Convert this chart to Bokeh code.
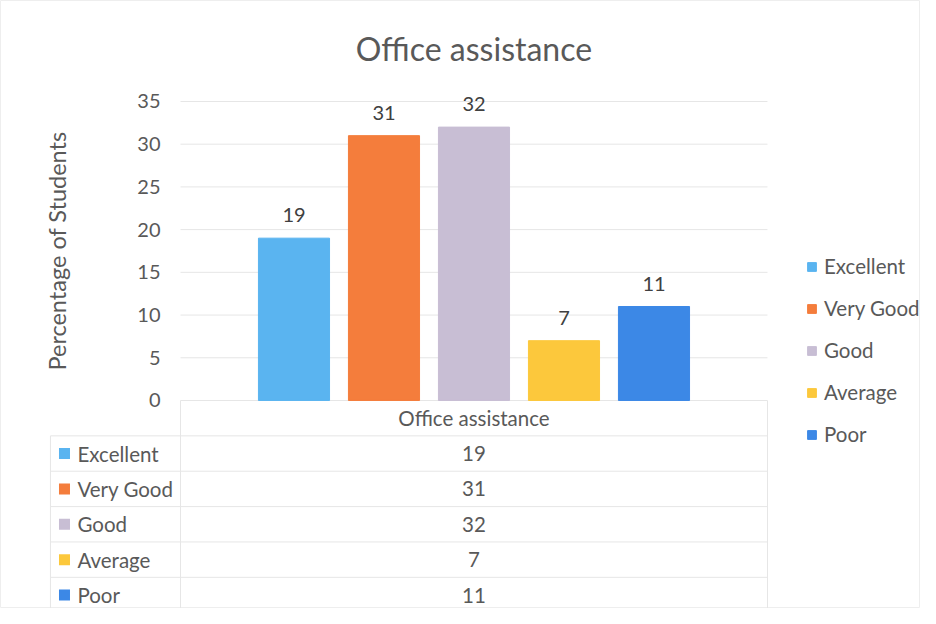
from bokeh.plotting import figure
from bokeh.models import Range1d, ColumnDataSource, Legend, LegendItem
from bokeh.core.properties import value
from bokeh.embed import file_html
from bokeh.resources import INLINE

# ---- data ----
categories = ["Excellent", "Very Good", "Good", "Average", "Poor"]
values = [19, 31, 32, 7, 11]
colors = ["#5AB4F0", "#F47D3C", "#C8BED4", "#FCC83C", "#3C88E6"]
y_ticks = [0, 5, 10, 15, 20, 25, 30, 35]
title_text = "Office assistance"
y_label = "Percentage of Students"
group_label = "Office assistance"

FONT = "Lato"
TXT = "#595959"
GRID = "#E6E6E6"

W, H = 920, 608
PX_X = 90.0      # pixels per bar slot
PX_Y = 8.543     # pixels per percentage point
x0 = -2.261
y1 = 46.82
p = figure(width=W, height=H,
           x_range=Range1d(x0, x0 + W / PX_X),
           y_range=Range1d(y1 - H / PX_Y, y1),
           output_backend="svg", toolbar_location=None,
           x_axis_location=None, y_axis_location=None, min_border=0)
p.grid.visible = False
p.outline_line_color = "#EEEEEE"
p.background_fill_color = "white"

xs = [i + 1 for i in range(len(categories))]
area_l, area_r = 0.5 - 0.761, len(categories) + 0.5 + 0.761
table_l = area_l - 1.445

# gridlines
p.segment(x0=[area_l] * len(y_ticks), y0=y_ticks, x1=[area_r] * len(y_ticks), y1=y_ticks,
          line_color=GRID, line_width=1)

src = ColumnDataSource(dict(x=xs, top=values, color=colors, cat=categories,
                            lbl=[str(v) for v in values]))
bars = p.vbar(x="x", top="top", width=0.79, color="color", source=src)
p.text(x="x", y="top", text="lbl", source=src, text_align="center",
       text_baseline="middle", y_offset=-23, text_font=value(FONT),
       text_font_size="20px", text_color="#404040")

# y tick labels and axis label
p.text(x=[area_l - 0.222] * len(y_ticks), y=y_ticks, text=[str(t) for t in y_ticks],
       text_align="right", text_baseline="middle", text_font=value(FONT),
       text_font_size="20px", text_color=TXT)
p.text(x=[table_l + 0.078], y=[y_ticks[-1] / 2], text=[y_label], angle=1.5708,
       text_align="center", text_baseline="middle", text_font=value(FONT),
       text_font_size="23.5px", text_color=TXT)

# title
p.text(x=[(len(categories) + 1) / 2], y=[41.2], text=[title_text], text_align="center",
       text_baseline="middle", text_font=value(FONT), text_font_size="32px",
       text_color=TXT)

# data table
row_h = 4.14
n = len(categories)
bottom = -row_h * (n + 1)
hl_y = [-row_h * (k + 1) for k in range(n + 1)]
p.segment(x0=[table_l] * len(hl_y), y0=hl_y, x1=[area_r] * len(hl_y), y1=hl_y,
          line_color=GRID, line_width=1)
p.segment(x0=[table_l, area_l, area_r], y0=[-row_h, 0, 0],
          x1=[table_l, area_l, area_r], y1=[bottom] * 3,
          line_color=GRID, line_width=1)
row_y = [-row_h * (i + 1.5) for i in range(n)]
p.text(x=[(n + 1) / 2], y=[-row_h / 2], text=[group_label], text_align="center",
       text_baseline="middle", text_font=value(FONT), text_font_size="20.5px",
       text_color=TXT)
p.text(x=[(n + 1) / 2] * n, y=row_y, text=[str(v) for v in values], text_align="center",
       text_baseline="middle", text_font=value(FONT), text_font_size="20.5px",
       text_color=TXT)
p.scatter(x=[table_l + 0.156] * n, y=row_y, marker="square", size=11,
          color=colors, line_color=None)
p.text(x=[table_l + 0.3] * n, y=row_y, text=categories, text_align="left",
       text_baseline="middle", text_font=value(FONT), text_font_size="20.5px",
       text_color=TXT)

# legend
items = [LegendItem(label=c, renderers=[bars], index=i) for i, c in enumerate(categories)]
legend = Legend(items=items, location=(806, 162), orientation="vertical",
                glyph_width=11, glyph_height=11, label_standoff=7,
                label_height=20, spacing=18, padding=0, margin=0,
                label_text_font=FONT, label_text_font_size="20.5px",
                label_text_color=TXT, border_line_color=None,
                background_fill_alpha=0)
p.add_layout(legend)

open("out.html", "w").write(file_html(p, INLINE))
